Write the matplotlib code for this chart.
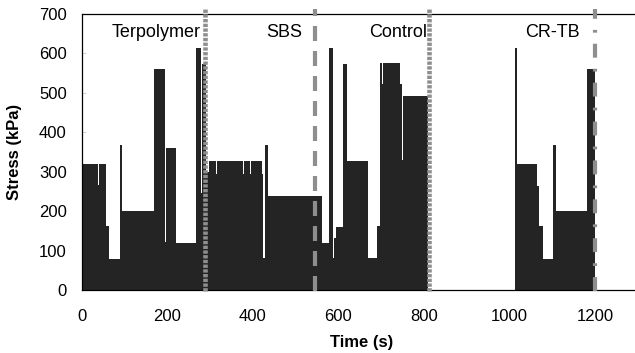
import matplotlib
matplotlib.use("Agg")
import matplotlib.pyplot as plt
import numpy as np

plt.rcParams["font.family"] = ["Liberation Sans", "DejaVu Sans"]
plt.rcParams["lines.scale_dashes"] = False

# Step-wise stress history: start time of each level (s) and its stress (kPa)
terp_t = [0, 3, 37.5, 39.3, 56, 64, 89, 93, 168, 195, 196.8, 220, 267, 278, 281]
terp_s = [615, 320, 267, 320, 164, 80, 369, 200, 560, 122, 361, 120, 615, 246, 574]

sbs_t = [291, 296, 314.5, 316.3, 345.5, 347.3, 376.5, 378.3, 392.5, 394.3,
         408.5, 410.3, 420, 424, 427, 436]
sbs_s = [299, 328, 296, 328, 296, 328, 296, 328, 296, 328, 296, 328, 296, 82, 369, 240]

ctrl_t = [561, 578, 588, 589.8, 594, 611, 619, 620.8, 649.5, 651.5, 668, 689, 697,
          702.5, 704.3, 733.5, 735.3, 745, 749, 750.8]
ctrl_s = [120, 615, 82, 132, 160, 574, 298, 328, 298, 328, 82, 164, 577,
          523, 577, 523, 577, 523, 330, 493]
ctrl_end = 810

crtb_t = [1013, 1018, 1065, 1070, 1078, 1101, 1109, 1181]
crtb_s = [615, 320, 265, 164, 80, 369, 200, 560]
crtb_end = 1200

# Section boundaries and labels
divider_x = [288, 545, 811, 1200]
section_names = ["Terpolymer", "SBS", "Control", "CR-TB"]
label_x = [174, 473, 739, 1100]
label_y = 652

x_ticks = [0, 200, 400, 600, 800, 1000, 1200]
y_ticks = [0, 100, 200, 300, 400, 500, 600, 700]

edges = terp_t + sbs_t + ctrl_t + [ctrl_end] + crtb_t + [crtb_end]
values = terp_s + sbs_s + ctrl_s + [0] + crtb_s

fig = plt.figure(figsize=(6.35, 3.53), dpi=100)
ax = fig.add_axes([0.1291, 0.1771, 0.8752, 0.7833])

ax.stairs(values, edges, fill=True, color="#242424", linewidth=0, zorder=2)

gray = "#8e8e8e"
styles = [(0, (2.4, 1.0)), (0, (10.8, 7.2)), (0, (2.4, 1.0)), (0, (10, 8, 2, 8))]
widths = [3.3, 3, 3.3, 3]
for xd, ls, lw in zip(divider_x, styles, widths):
    ax.plot([xd, xd], [-2, 712], color=gray, lw=lw, linestyle=ls,
            dash_capstyle="butt", clip_on=False, zorder=3)

for name, xl in zip(section_names, label_x):
    ax.text(xl, label_y, name, ha="center", va="center", fontsize=13,
            color="black", zorder=4)

ax.set_xlim(0, 1300)
ax.set_ylim(0, 700)
ax.set_xticks(x_ticks)
ax.set_yticks(y_ticks)
ax.tick_params(axis="x", length=0, pad=13, labelsize=12)
ax.tick_params(axis="y", direction="in", length=3, width=0.6,
               color="#c8c8c8", pad=11, labelsize=12)

ax.spines["right"].set_visible(False)
for sp in ["left", "bottom", "top"]:
    ax.spines[sp].set_linewidth(0.9)
    ax.spines[sp].set_color("black")

ax.set_xlabel("Time (s)", fontsize=12, fontweight="bold")
ax.set_ylabel("Stress (kPa)", fontsize=12, fontweight="bold")
ax.xaxis.set_label_coords(0.503, -0.16)
ax.yaxis.set_label_coords(-0.108, 0.5)

fig.savefig("out.png", dpi=100)
